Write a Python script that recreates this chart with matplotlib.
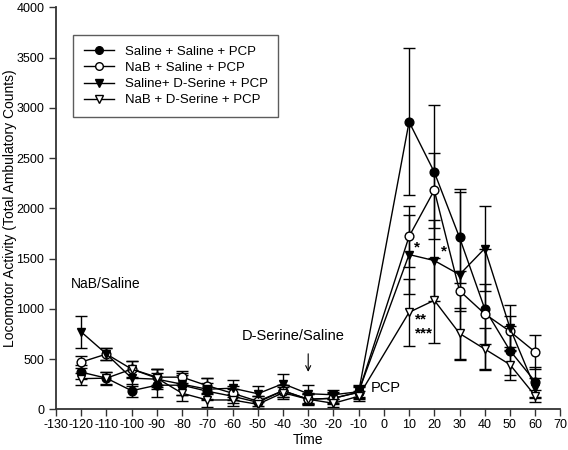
import matplotlib
matplotlib.use('Agg')
import matplotlib.pyplot as plt
from matplotlib.lines import Line2D

plt.rcParams['font.family'] = ['Liberation Sans', 'DejaVu Sans']
plt.rcParams['axes.unicode_minus'] = False

time = [-120, -110, -100, -90, -80, -70, -60, -50, -40, -30, -20, -10, 10, 20, 30, 40, 50, 60]

# Saline + Saline + PCP
sal_sal = [370, 310, 185, 240, 240, 180, 130, 70, 185, 100, 110, 170, 2860, 2360, 1710, 1000, 585, 275]
sal_sal_err = [70, 65, 65, 120, 100, 80, 70, 60, 60, 50, 50, 50, 730, 670, 450, 600, 240, 150]
# NaB + Saline + PCP
nab_sal = [470, 550, 400, 320, 320, 235, 160, 80, 185, 100, 110, 170, 1720, 2180, 1180, 950, 775, 570]
nab_sal_err = [60, 60, 85, 80, 60, 80, 70, 50, 60, 60, 60, 70, 305, 375, 200, 300, 150, 170]
# Saline + D-Serine + PCP
sal_ser = [770, 550, 310, 300, 250, 200, 210, 155, 255, 155, 145, 175, 1540, 1480, 1340, 1600, 810, 210]
sal_ser_err = [155, 60, 80, 100, 110, 110, 85, 80, 100, 90, 45, 60, 395, 400, 850, 420, 230, 100]
# NaB + D-Serine + PCP
nab_ser = [305, 310, 400, 310, 160, 93, 93, 50, 165, 100, 60, 130, 965, 1085, 755, 600, 445, 135]
nab_ser_err = [60, 60, 80, 90, 80, 70, 60, 50, 60, 50, 40, 50, 335, 425, 250, 210, 150, 60]

labels = ['Saline + Saline + PCP', 'NaB + Saline + PCP',
          'Saline+ D-Serine + PCP', 'NaB + D-Serine + PCP']

fig = plt.figure(figsize=(5.68, 4.5), dpi=100)
ax = fig.add_axes([0.0986, 0.0904, 0.888, 0.8934])

series = [(sal_sal, sal_sal_err, 'o', 'black'),
          (nab_sal, nab_sal_err, 'o', 'white'),
          (sal_ser, sal_ser_err, 'v', 'black'),
          (nab_ser, nab_ser_err, 'v', 'white')]
handles = []
for (y, e, m, fc), lab in zip(series, labels):
    ax.errorbar(time, y, yerr=e, fmt='-', marker=m, color='black', mfc=fc, mec='black',
                ms=6.3, lw=1, elinewidth=1, capsize=4, capthick=1)
    handles.append(Line2D([], [], color='black', lw=1, marker=m, mfc=fc, mec='black', ms=5.5))

ax.set_xlim(-130, 70)
ax.set_ylim(0, 4000)
ax.set_xticks(range(-130, 71, 10))
ax.set_yticks(range(0, 4001, 500))
ax.tick_params(direction='out', length=5, width=1, labelsize=9, color='#333333')
ax.tick_params(axis='x', pad=2)
for s in ['top', 'right']:
    ax.spines[s].set_visible(False)
for s in ['left', 'bottom']:
    ax.spines[s].set_linewidth(1.3)
    ax.spines[s].set_color('#333333')

ax.set_xlabel('Time', fontsize=10)
ax.xaxis.set_label_coords(0.5, -0.058)
ax.set_ylabel('Locomotor Activity (Total Ambulatory Counts)', fontsize=10)
ax.yaxis.set_label_coords(-0.078, 0.5)

ax.text(-124, 1250, 'NaB/Saline', fontsize=10, va='center')
ax.text(-36, 730, 'D-Serine/Saline', fontsize=10.5, ha='center', va='center')
ax.annotate('', xy=(-30, 345), xytext=(-30, 580),
            arrowprops=dict(arrowstyle='->', color='black', lw=0.8, mutation_scale=9))
ax.text(-5, 210, 'PCP', fontsize=10.5, va='center')
ax.text(13, 1610, '*', fontsize=11, weight='bold', ha='center', va='center')
ax.text(24, 1570, '*', fontsize=11, weight='bold', ha='center', va='center')
ax.text(12.3, 890, '**', fontsize=11, weight='bold', va='center')
ax.text(12.3, 750, '***', fontsize=11, weight='bold', va='center')

leg = ax.legend(handles, labels, loc='upper left', bbox_to_anchor=(0.034, 0.931),
                borderaxespad=0, fontsize=9.5, fancybox=False, frameon=True,
                handlelength=2.3, labelspacing=0.3, borderpad=0.8)
leg.get_frame().set_edgecolor('#333333')
leg.get_frame().set_linewidth(1)

fig.savefig('out.png', dpi=100)
